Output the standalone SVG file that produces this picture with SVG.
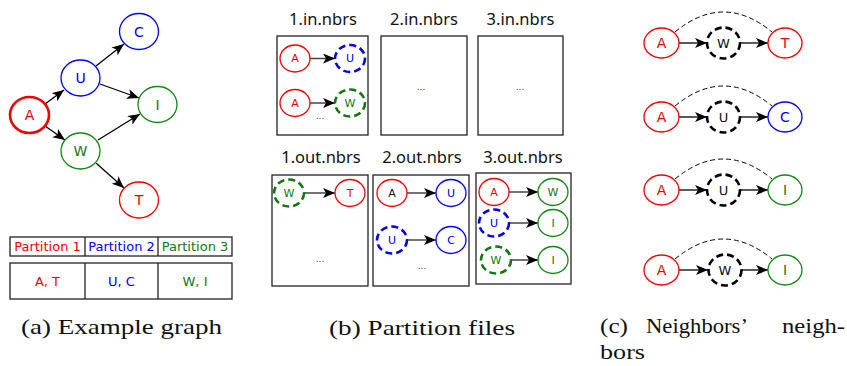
<svg xmlns="http://www.w3.org/2000/svg" width="847" height="366" viewBox="0 0 847 366">
<defs>
<marker id="ah" markerUnits="userSpaceOnUse" markerWidth="14" markerHeight="12" refX="12" refY="5" orient="auto">
<path d="M0,0 L12,5 L0,10 L3,5 Z" fill="#000"/>
</marker>
</defs>
<style>
.nt{font-family:"DejaVu Sans","Noto Sans",sans-serif;text-anchor:middle;dominant-baseline:central}
.big{font-size:14px}
.md{font-size:13px}
.sm{font-size:11px}
.tit{font-family:"Noto Sans","DejaVu Sans",sans-serif;font-size:16.5px;text-anchor:middle;fill:#111}
.cap{font-family:"Liberation Serif",serif;font-size:22px;fill:#111}
.r{stroke:#f00000;fill:#fff;stroke-width:1.3}
.b{stroke:#0000ff;fill:#fff;stroke-width:1.3}
.g{stroke:#118811;fill:#fff;stroke-width:1.3}
.bd{stroke:#0000ee;fill:#fff;stroke-width:2.6;stroke-dasharray:7,4}
.gd{stroke:#117711;fill:#fff;stroke-width:2.6;stroke-dasharray:7,4}
.kd{stroke:#000;fill:#fff;stroke-width:2.6;stroke-dasharray:7,4}
.tr{fill:#f00000}.tb{fill:#0000ee}.tg{fill:#117711}.tk{fill:#111}
.e{stroke:#000;stroke-width:1.3;fill:none;marker-end:url(#ah)}
.eg{stroke:#444;stroke-width:1.5;fill:none;marker-end:url(#ah)}
.arc{stroke:#000;stroke-width:1;fill:none;stroke-dasharray:5,3}
.box{fill:#fff;stroke:#222;stroke-width:1.3}
.dots{font-family:"DejaVu Sans",sans-serif;font-size:9px;text-anchor:middle;fill:#333}
.pt{font-family:"DejaVu Sans","Noto Sans",sans-serif;font-size:13px;text-anchor:middle}
</style>

<!-- Panel (a) -->
<g id="a-connectors">
<line class="e" x1="45" y1="104" x2="64" y2="90"/>
<line class="e" x1="45" y1="126" x2="65" y2="140"/>
<line class="e" x1="96" y1="66" x2="124" y2="44"/>
<line class="e" x1="100" y1="84" x2="139" y2="98"/>
<line class="e" x1="98" y1="140" x2="140" y2="114"/>
<line class="e" x1="96" y1="163" x2="124" y2="188"/>
</g>
<g id="a-A"><ellipse cx="29.5" cy="115" rx="19.5" ry="18" fill="#fff" stroke="#f00000" stroke-width="2.6"/><text class="nt big tr" x="29.5" y="115">A</text></g>
<g id="a-U"><ellipse class="b" cx="80.5" cy="78" rx="19.5" ry="18"/><text class="nt big tb" x="80.5" y="78">U</text></g>
<g id="a-C"><ellipse class="b" cx="139" cy="31.5" rx="19.5" ry="18"/><text class="nt big tb" x="139" y="31.5">C</text></g>
<g id="a-I"><ellipse class="g" cx="157.5" cy="104.5" rx="19.5" ry="18"/><text class="nt big tg" x="157.5" y="104.5">I</text></g>
<g id="a-W"><ellipse class="g" cx="80.5" cy="151" rx="19.5" ry="18"/><text class="nt big tg" x="80.5" y="151">W</text></g>
<g id="a-T"><ellipse class="r" cx="139" cy="200" rx="19.5" ry="18"/><text class="nt big tr" x="139" y="200">T</text></g>

<g id="a-table">
<rect x="10" y="237" width="222" height="19" fill="#fff" stroke="#222" stroke-width="1.3"/>
<line x1="85" y1="237" x2="85" y2="256" stroke="#222" stroke-width="1.3"/>
<line x1="158" y1="237" x2="158" y2="256" stroke="#222" stroke-width="1.3"/>
<rect x="10" y="263" width="222" height="36" fill="#fff" stroke="#222" stroke-width="1.3"/>
<line x1="85" y1="263" x2="85" y2="299" stroke="#222" stroke-width="1.3"/>
<line x1="158" y1="263" x2="158" y2="299" stroke="#222" stroke-width="1.3"/>
<text class="pt tr" x="47.5" y="251">Partition 1</text>
<text class="pt tb" x="121.5" y="251">Partition 2</text>
<text class="pt tg" x="195" y="251">Partition 3</text>
<text class="pt tr" x="47.5" y="286">A, T</text>
<text class="pt tb" x="121.5" y="286">U, C</text>
<text class="pt tg" x="195" y="286">W, I</text>
</g>
<text class="cap" x="21" y="334" textLength="201" lengthAdjust="spacingAndGlyphs">(a) Example graph</text>

<!-- Panel (b) -->
<g id="b-in1">
<text class="tit" x="323" y="25">1.in.nbrs</text>
<rect class="box" x="277" y="36" width="91" height="99"/>
<line class="eg" x1="310" y1="58.5" x2="335" y2="58.5"/>
<line class="eg" x1="310" y1="103" x2="335" y2="103"/>
<ellipse class="r" cx="295" cy="58.5" rx="15" ry="13.5"/><text class="nt sm tr" x="295" y="58.5">A</text>
<ellipse class="bd" cx="350" cy="58.5" rx="15" ry="13.5"/><text class="nt sm tb" x="350" y="58.5">U</text>
<ellipse class="r" cx="295" cy="103" rx="15" ry="13.5"/><text class="nt sm tr" x="295" y="103">A</text>
<ellipse class="gd" cx="350" cy="103" rx="15" ry="13.5"/><text class="nt sm tg" x="350" y="103">W</text>
<text class="dots" x="320" y="119">...</text>
</g>
<g id="b-in2">
<text class="tit" x="424" y="25">2.in.nbrs</text>
<rect class="box" x="381" y="36" width="86" height="99"/>
<text class="dots" x="421" y="90">...</text>
</g>
<g id="b-in3">
<text class="tit" x="520.5" y="25">3.in.nbrs</text>
<rect class="box" x="478" y="36" width="85" height="99"/>
<text class="dots" x="520" y="90">...</text>
</g>

<g id="b-out1">
<text class="tit" x="321" y="163">1.out.nbrs</text>
<rect class="box" x="272" y="175" width="96" height="111"/>
<line class="eg" x1="304" y1="193" x2="335" y2="193"/>
<ellipse class="gd" cx="289" cy="193" rx="15" ry="13.5"/><text class="nt sm tg" x="289" y="193">W</text>
<ellipse class="r" cx="350" cy="193" rx="15" ry="13.5"/><text class="nt sm tr" x="350" y="193">T</text>
<text class="dots" x="320" y="262">...</text>
</g>
<g id="b-out2">
<text class="tit" x="422" y="163">2.out.nbrs</text>
<rect class="box" x="373" y="175" width="96" height="111"/>
<line class="eg" x1="407" y1="193" x2="436" y2="193"/>
<line class="eg" x1="407" y1="240" x2="436" y2="240"/>
<ellipse class="r" cx="392" cy="193" rx="15" ry="13.5"/><text class="nt sm tk" x="392" y="193">A</text>
<ellipse class="b" cx="451" cy="193" rx="15" ry="13.5"/><text class="nt sm tb" x="451" y="193">U</text>
<ellipse class="bd" cx="392" cy="240" rx="15" ry="13.5"/><text class="nt sm tb" x="392" y="240">U</text>
<ellipse class="b" cx="451" cy="240" rx="15" ry="13.5"/><text class="nt sm tb" x="451" y="240">C</text>
<text class="dots" x="422" y="269">...</text>
</g>
<g id="b-out3">
<text class="tit" x="523" y="163">3.out.nbrs</text>
<rect class="box" x="476" y="173" width="95" height="111"/>
<line class="eg" x1="509" y1="192" x2="538" y2="192"/>
<line class="eg" x1="509" y1="223" x2="538" y2="223"/>
<line class="eg" x1="511" y1="260" x2="538" y2="260"/>
<ellipse class="r" cx="494" cy="192" rx="15" ry="13.5"/><text class="nt sm tr" x="494" y="192">A</text>
<ellipse class="g" cx="553" cy="192" rx="15" ry="13.5"/><text class="nt sm tg" x="553" y="192">W</text>
<ellipse class="bd" cx="494" cy="223" rx="15" ry="13.5"/><text class="nt sm tb" x="494" y="223">U</text>
<ellipse class="g" cx="553" cy="223" rx="15" ry="13.5"/><text class="nt sm tg" x="553" y="223">I</text>
<ellipse class="gd" cx="496" cy="260" rx="15" ry="13.5"/><text class="nt sm tg" x="496" y="260">W</text>
<ellipse class="g" cx="553" cy="260" rx="15" ry="13.5"/><text class="nt sm tg" x="553" y="260">I</text>
</g>
<text class="cap" x="329" y="335" textLength="186" lengthAdjust="spacingAndGlyphs">(b) Partition files</text>

<!-- Panel (c) -->
<g id="c-connectors">
<path class="arc" d="M675,32 Q723.5,-8 772,32"/>
<path class="arc" d="M675,106 Q723.5,66 772,106"/>
<path class="arc" d="M675,179 Q723.5,139 772,179"/>
<path class="arc" d="M675,259 Q723.5,219 772,259"/>
<line class="e" x1="679" y1="43" x2="707" y2="43"/>
<line class="e" x1="740" y1="43" x2="768" y2="43"/>
<line class="e" x1="679" y1="117" x2="707" y2="117"/>
<line class="e" x1="740" y1="117" x2="768" y2="117"/>
<line class="e" x1="679" y1="190" x2="707" y2="190"/>
<line class="e" x1="740" y1="190" x2="768" y2="190"/>
<line class="e" x1="679" y1="270" x2="708" y2="270"/>
<line class="e" x1="742" y1="270" x2="768" y2="270"/>
</g>
<g id="c-r1">
<ellipse class="r" cx="661.5" cy="43" rx="17.5" ry="15"/><text class="nt big tr" x="661.5" y="43">A</text>
<ellipse class="kd" cx="723.5" cy="43" rx="16.5" ry="15.5"/><text class="nt md tk" x="723.5" y="43">W</text>
<ellipse class="r" cx="785" cy="43" rx="17" ry="15"/><text class="nt big tr" x="785" y="43">T</text>
</g>
<g id="c-r2">
<ellipse class="r" cx="661.5" cy="117" rx="17.5" ry="15"/><text class="nt big tr" x="661.5" y="117">A</text>
<ellipse class="kd" cx="723.5" cy="117" rx="16.5" ry="15.5"/><text class="nt md tk" x="723.5" y="117">U</text>
<ellipse class="b" cx="785" cy="117" rx="17" ry="15"/><text class="nt big tb" x="785" y="117">C</text>
</g>
<g id="c-r3">
<ellipse class="r" cx="661.5" cy="190" rx="17.5" ry="15"/><text class="nt big tr" x="661.5" y="190">A</text>
<ellipse class="kd" cx="723.5" cy="190" rx="16.5" ry="15.5"/><text class="nt md tk" x="723.5" y="190">U</text>
<ellipse class="g" cx="785" cy="190" rx="17" ry="15"/><text class="nt big tg" x="785" y="190">I</text>
</g>
<g id="c-r4">
<ellipse class="r" cx="661.5" cy="270" rx="17.5" ry="15"/><text class="nt big tr" x="661.5" y="270">A</text>
<ellipse class="kd" cx="725" cy="270" rx="16.5" ry="15.5"/><text class="nt md tk" x="725" y="270">W</text>
<ellipse class="g" cx="785" cy="270" rx="17" ry="15"/><text class="nt big tg" x="785" y="270">I</text>
</g>
<text class="cap" x="600" y="333" textLength="28" lengthAdjust="spacingAndGlyphs">(c)</text>
<text class="cap" x="646" y="333" textLength="102" lengthAdjust="spacingAndGlyphs">Neighbors’</text>
<text class="cap" x="782" y="333" textLength="63" lengthAdjust="spacingAndGlyphs">neigh-</text>
<text class="cap" x="600" y="359" textLength="45" lengthAdjust="spacingAndGlyphs">bors</text>
</svg>
